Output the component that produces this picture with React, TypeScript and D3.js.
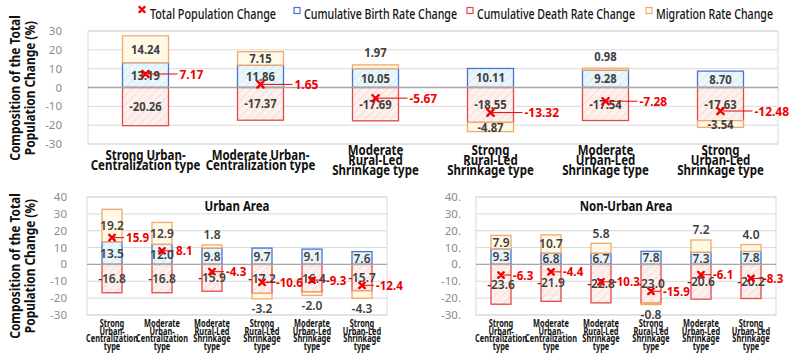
import React from "react";
import * as d3 from "d3";

// ---------- data ----------
const topCategories: string[][] = [
  ["Strong Urban-", "Centralization type"],
  ["Moderate Urban-", "Centralization type"],
  ["Moderate", "Rural-Led", "Shrinkage type"],
  ["Strong", "Rural-Led", "Shrinkage type"],
  ["Moderate", "Urban-Led", "Shrinkage type"],
  ["Strong", "Urban-Led", "Shrinkage type"],
];
const subCategories: string[][] = [
  ["Strong", "Urban-", "Centralization", "type"],
  ["Moderate", "Urban-", "Centralization", "type"],
  ["Moderate", "Rural-Led", "Shrinkage", "type"],
  ["Strong", "Rural-Led", "Shrinkage", "type"],
  ["Moderate", "Urban-Led", "Shrinkage", "type"],
  ["Strong", "Urban-Led", "Shrinkage", "type"],
];

const allBirth = [13.19, 11.86, 10.05, 10.11, 9.28, 8.7];
const allDeath = [-20.26, -17.37, -17.69, -18.55, -17.54, -17.63];
const allMigration = [14.24, 7.15, 1.97, -4.87, 0.98, -3.54];
const allTotal = [7.17, 1.65, -5.67, -13.32, -7.28, -12.48];

const urbanBirth = [13.5, 12.0, 9.8, 9.7, 9.1, 7.6];
const urbanDeath = [-16.8, -16.8, -15.9, -17.2, -16.4, -15.7];
const urbanMigration = [19.2, 12.9, 1.8, -3.2, -2.0, -4.3];
const urbanTotal = [15.9, 8.1, -4.3, -10.6, -9.3, -12.4];

const ruralBirth = [9.3, 6.8, 6.7, 7.8, 7.3, 7.8];
const ruralDeath = [-23.6, -21.9, -22.8, -23.0, -20.6, -20.2];
const ruralMigration = [7.9, 10.7, 5.8, -0.8, 7.2, 4.0];
const ruralTotal = [-6.3, -4.4, -10.3, -15.9, -6.1, -8.3];

const legendItems = [
  "Total Population Change",
  "Cumulative Birth Rate Change",
  "Cumulative Death Rate Change",
  "Migration Rate Change",
];
const yTitleLines = ["Composition of the Total", "Population Change (%)"];

// ---------- styles ----------
const FONT = "'Noto Sans', 'DejaVu Sans', sans-serif";
const BLUE = "#4A72D0";
const RED = "#E5484B";
const ORANGE = "#F2AA6C";
const TOTAL_RED = "#F00000";
const LABEL = "#404040";
const GRID = "#D9D9D9";

function T(props: any) {
  const { x, y, sx = 1, rot = 0, children, ...rest } = props;
  return (
    <text
      transform={`translate(${x},${y})${rot ? ` rotate(${rot})` : ""} scale(${sx},1)`}
      fontFamily={FONT}
      {...rest}
    >
      {children}
    </text>
  );
}

function XMark({ x, y, s = 3.2, w = 2.4 }: any) {
  return (
    <path
      d={`M${x - s},${y - s}L${x + s},${y + s}M${x - s},${y + s}L${x + s},${y - s}`}
      stroke={TOTAL_RED}
      strokeWidth={w}
      strokeLinecap="round"
    />
  );
}

type PanelProps = {
  x0: number; x1: number; yTop: number; yBot: number;
  domain: [number, number];
  tickX: number; tickFmt: (v: number) => string; tickSize: number;
  birth: number[]; death: number[]; mig: number[]; total: number[];
  cats: string[][]; catSize: number; catSx: number; catCenter: number; catLH: number; catFirst?: number;
  digits: number; valSize: number; valSx: number; valWeight: string | number;
  totSize: number; totSx: number; totOff: number; markS: number;
  outside: number; outOff: number;
  title?: string;
};

function Panel(p: PanelProps) {
  const x = d3
    .scaleBand<number>()
    .domain(d3.range(p.birth.length))
    .range([p.x0, p.x1])
    .paddingInner(0.6)
    .paddingOuter(0.3);
  const y = d3.scaleLinear().domain(p.domain).range([p.yBot, p.yTop]);
  const ticks = d3.range(p.domain[0], p.domain[1] + 1, 10);
  const bw = x.bandwidth();

  const valueLabel = (cx: number, lo: number, hi: number, v: number, isMig: boolean, key: string) => {
    let ly = (y(lo) + y(hi)) / 2;
    if (isMig && Math.abs(v) < p.outside) {
      ly = v > 0 ? y(hi) - p.outOff : y(lo) + p.outOff;
    }
    return (
      <T key={key} x={cx} y={ly} sx={p.valSx} dy="0.36em" textAnchor="middle" fontSize={p.valSize}
        fontWeight={p.valWeight} fill={LABEL}>
        {v.toFixed(p.digits)}
      </T>
    );
  };

  return (
    <g>
      {ticks.map((t) => (
        <line key={"g" + t} x1={p.x0} x2={p.x1} y1={y(t)} y2={y(t)} stroke={GRID} strokeWidth={1} />
      ))}
      <rect x={p.x0} y={p.yTop} width={p.x1 - p.x0} height={p.yBot - p.yTop} fill="none" stroke={GRID} strokeWidth={1} />
      {ticks.map((t) => (
        <T key={"t" + t} x={p.tickX} y={y(t)} dy="0.35em" textAnchor="end" fontSize={p.tickSize} fill="#8C8C8C">
          {p.tickFmt(t)}
        </T>
      ))}
      {p.title && (
        <T x={(p.x0 + p.x1) / 2} y={p.yTop + 14} sx={0.82} textAnchor="middle" fontSize={14} fontWeight="bold" fill="#111">
          {p.title}
        </T>
      )}
      {p.birth.map((b, i) => {
        const d = p.death[i];
        const m = p.mig[i];
        const left = x(i)!;
        const mLo = m >= 0 ? b : d + m;
        const mHi = m >= 0 ? b + m : d;
        return (
          <g key={"b" + i}>
            <rect x={left} width={bw} y={y(b)} height={y(0) - y(b)} fill="url(#hatchBlue)" stroke={BLUE} strokeWidth={1.3} />
            <rect x={left} width={bw} y={y(0)} height={y(d) - y(0)} fill="url(#hatchRed)" stroke={RED} strokeWidth={1.3} />
            <rect x={left} width={bw} y={y(mHi)} height={y(mLo) - y(mHi)} fill="url(#hatchOrange)" stroke={ORANGE} strokeWidth={1.3} />
          </g>
        );
      })}
      <line x1={p.x0} x2={p.x1} y1={y(0)} y2={y(0)} stroke="#A6A6A6" strokeWidth={1.3} />
      {p.birth.map((b, i) => {
        const d = p.death[i];
        const m = p.mig[i];
        const cx = x(i)! + bw / 2;
        const mLo = m >= 0 ? b : d + m;
        const mHi = m >= 0 ? b + m : d;
        return (
          <g key={"l" + i}>
            {valueLabel(cx, 0, b, b, false, "lb")}
            {valueLabel(cx, d, 0, d, false, "ld")}
            {valueLabel(cx, mLo, mHi, m, true, "lm")}
          </g>
        );
      })}
      {p.total.map((t, i) => {
        const cx = x(i)! + bw / 2;
        const ty = y(t);
        return (
          <g key={"tt" + i}>
            <line x1={cx} x2={cx + p.totOff - 2} y1={ty} y2={ty} stroke={TOTAL_RED} strokeWidth={1} />
            <XMark x={cx} y={ty} s={p.markS} />
            <T x={cx + p.totOff} y={ty} dy="0.36em" sx={p.totSx} fontSize={p.totSize} fontWeight="bold" fill={TOTAL_RED}>
              {t.toFixed(p.digits)}
            </T>
          </g>
        );
      })}
      {p.cats.map((lines, i) => {
        const cx = x(i)! + bw / 2;
        return (
          <g key={"c" + i}>
            {lines.map((ln, j) => {
              const by =
                p.catFirst !== undefined
                  ? p.catFirst + j * p.catLH
                  : p.catCenter + (j - (lines.length - 1) / 2) * p.catLH;
              return (
                <T key={j} x={cx} y={by} sx={p.catSx} textAnchor="middle" fontSize={p.catSize} fontWeight="bold" fill="#111">
                  {ln}
                </T>
              );
            })}
          </g>
        );
      })}
    </g>
  );
}

function YTitle({ cy }: { cy: number }) {
  return (
    <g>
      {yTitleLines.map((ln, j) => (
        <T key={j} x={19.5 + j * 15} y={cy} rot={-90} sx={0.82} textAnchor="middle" fontSize={14.5} fontWeight="bold" fill="#111">
          {ln}
        </T>
      ))}
    </g>
  );
}

export default function App() {
  const legendX = [150, 304, 477, 656];
  const legendW = [126, 153, 158, 117];
  const legendColors = [TOTAL_RED, BLUE, RED, ORANGE];
  return (
    <svg width={800} height={356} style={{ position: "absolute", left: 0, top: 0, background: "#fff" }}>
      <defs>
        <pattern id="hatchBlue" width={6} height={6} patternUnits="userSpaceOnUse" patternTransform="rotate(45)">
          <rect width={6} height={6} fill="#EAF6FA" />
          <line x1={0} y1={0} x2={0} y2={6} stroke="#D2ECF4" strokeWidth={2} />
        </pattern>
        <pattern id="hatchRed" width={6} height={6} patternUnits="userSpaceOnUse" patternTransform="rotate(45)">
          <rect width={6} height={6} fill="#FDF1EE" />
          <line x1={0} y1={0} x2={0} y2={6} stroke="#F9DCD4" strokeWidth={2} />
        </pattern>
        <pattern id="hatchOrange" width={6} height={6} patternUnits="userSpaceOnUse" patternTransform="rotate(45)">
          <rect width={6} height={6} fill="#FFFAE8" />
          <line x1={0} y1={0} x2={0} y2={6} stroke="#FDF3DA" strokeWidth={1.5} />
        </pattern>
      </defs>
      <rect width={800} height={356} fill="#fff" />

      {legendItems.map((name, i) => (
        <g key={name}>
          {i === 0 ? (
            <XMark x={142} y={9.5} s={2.6} w={2.2} />
          ) : (
            <rect x={legendX[i] - 10} y={7.5} width={6} height={6} fill="#fff" stroke={legendColors[i]} strokeWidth={1.2} />
          )}
          <text x={legendX[i]} y={19} fontFamily={FONT} fontSize={13.5} fontWeight={500} fill="#111" textLength={legendW[i]} lengthAdjust="spacingAndGlyphs">
            {name}
          </text>
        </g>
      ))}

      <YTitle cy={88} />
      <YTitle cy={266} />

      <Panel
        x0={88} x1={778} yTop={31} yBot={144} domain={[-30, 30]}
        tickX={62} tickFmt={(v) => String(v)} tickSize={11.5}
        birth={allBirth} death={allDeath} mig={allMigration} total={allTotal}
        cats={topCategories} catSize={14} catSx={0.82} catCenter={165} catLH={10.4}
        digits={2} valSize={12.5} valSx={0.9} valWeight="bold"
        totSize={13} totSx={0.92} totOff={34} markS={3.2}
        outside={3} outOff={12}
      />
      <Panel
        x0={87} x1={387} yTop={197} yBot={315} domain={[-30, 40]}
        tickX={67} tickFmt={(v) => String(v)} tickSize={11.5}
        birth={urbanBirth} death={urbanDeath} mig={urbanMigration} total={urbanTotal}
        cats={subCategories} catSize={10} catSx={0.74} catCenter={0} catLH={7.6} catFirst={327}
        digits={1} valSize={12.5} valSx={0.96} valWeight={600}
        totSize={12.5} totSx={0.93} totOff={14} markS={2.8}
        outside={7.5} outOff={10}
        title="Urban Area"
      />
      <Panel
        x0={476} x1={776} yTop={197} yBot={315} domain={[-30, 40]}
        tickX={461} tickFmt={(v) => v + "."} tickSize={11.5}
        birth={ruralBirth} death={ruralDeath} mig={ruralMigration} total={ruralTotal}
        cats={subCategories} catSize={10} catSx={0.74} catCenter={0} catLH={7.6} catFirst={327}
        digits={1} valSize={12.5} valSx={0.96} valWeight={600}
        totSize={12.5} totSx={0.93} totOff={12} markS={2.8}
        outside={7.5} outOff={10}
        title="Non-Urban Area"
      />
    </svg>
  );
}
